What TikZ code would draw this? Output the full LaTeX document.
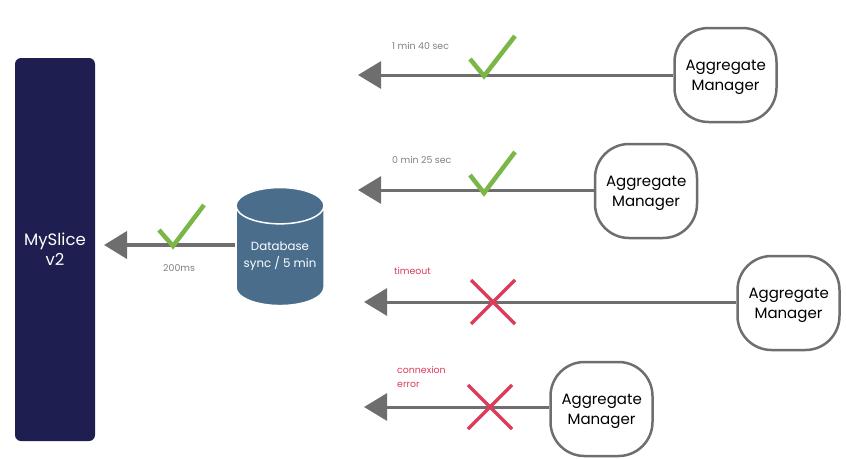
\documentclass[tikz,border=0pt]{standalone}
\usepackage{fontspec}
\setmainfont{Poppins}
\usetikzlibrary{positioning, arrows.meta}
\usetikzlibrary{shapes}
\definecolor{sliceblue}{HTML}{1E1E50}
\definecolor{dbblue}{HTML}{4A6D8C}
\definecolor{linegray}{HTML}{6E6E6E}
\definecolor{okgreen}{HTML}{7AB648}
\definecolor{kored}{HTML}{DC3C5A}
\newcommand{\amlabel}{\raisebox{-6pt}[0pt][0pt]{\parbox{80pt}{\centering Aggregate\\Manager}}}
\begin{document}
\begin{tikzpicture}[x=1pt,y=-1pt,
	manager/.style={shape=rectangle,draw=linegray,line width=2.5pt,rounded corners=34pt,minimum width=102pt,minimum height=94pt,font=\fontsize{15}{20}\selectfont},
	link/.style={draw=linegray,line width=3pt,-{Triangle[length=23pt,width=27pt]}},
	note/.style={anchor=west,inner sep=0pt,align=left,text=gray,font=\fontsize{9.4}{14}\selectfont},
	tick/.style={draw=okgreen,line width=4.5pt},
	cross/.style={draw=kored,line width=3.5pt},
	]
	    \useasboundingbox (0,0) rectangle (846,458);
	    % create the nodes
		    \node[fill=sliceblue,rounded corners=6pt,minimum width=80pt,minimum height=383pt,text=white,align=center,font=\fontsize{16.5}{20}\selectfont] (slice) at (55,249.5) {MySlice\\v2};
		    \node[shape=cylinder,shape border rotate=90,aspect=0.5,draw=white,line width=1.5pt,fill=dbblue,minimum width=88pt,minimum height=118pt,inner sep=0pt,text=white,align=center,font=\fontsize{11.8}{17}\selectfont] (db) at (280,256) {Database\\sync / 5 min};
		    \node[manager] (am1) at (725.5,75) {\amlabel};
		    \node[manager] (am2) at (646,191) {\amlabel};
		    \node[manager] (am3) at (788.5,303) {\amlabel};
		    \node[manager] (am4) at (601.5,409) {\amlabel};
		    % free ends of the arrows
		    \coordinate (tip0) at (104,245);
		    \coordinate (tip1) at (358,75);
		    \coordinate (tip2) at (358,190);
		    \coordinate (tip3) at (364,302);
		    \coordinate (tip4) at (364,407);
		    \coordinate (am2w) at (am2.west |- tip2);
		    \coordinate (am3w) at (am3.west |- tip3);
		    \coordinate (am4w) at (am4.west |- tip4);
		    % arrows
		    \draw[link,line width=4pt] (db.west |- tip0) -- (tip0);
		    \draw[link] (am1) -- (tip1);
		    \draw[link] (am2w) -- (tip2);
		    \draw[link] (am3w) -- (tip3);
		    \draw[link] (am4w) -- (tip4);
		    % labels
		    \node[note] (t0) at (163,268) {200ms};
		    \node[note] (t1) at (392,46) {1 min 40 sec};
		    \node[note] (t2) at (392,160) {0 min 25 sec};
		    \node[note,text=kored] (t3) at (394,271) {timeout};
		    \node[note,text=kored] (t4) at (397,377) {connexion\\error};
		    % ticks and crosses
		    \draw[tick] (159,230) -- (173,246) -- (204,205);
		    \draw[tick] (470,59) -- (484,76) -- (515,36);
		    \draw[tick] (470,175) -- (484,193) -- (515,152);
		    \draw[cross] (471,280) -- (515,324) (515,280) -- (471,324);
		    \draw[cross] (468,385) -- (512,429) (512,385) -- (468,429);
		\end{tikzpicture}
\end{document}
